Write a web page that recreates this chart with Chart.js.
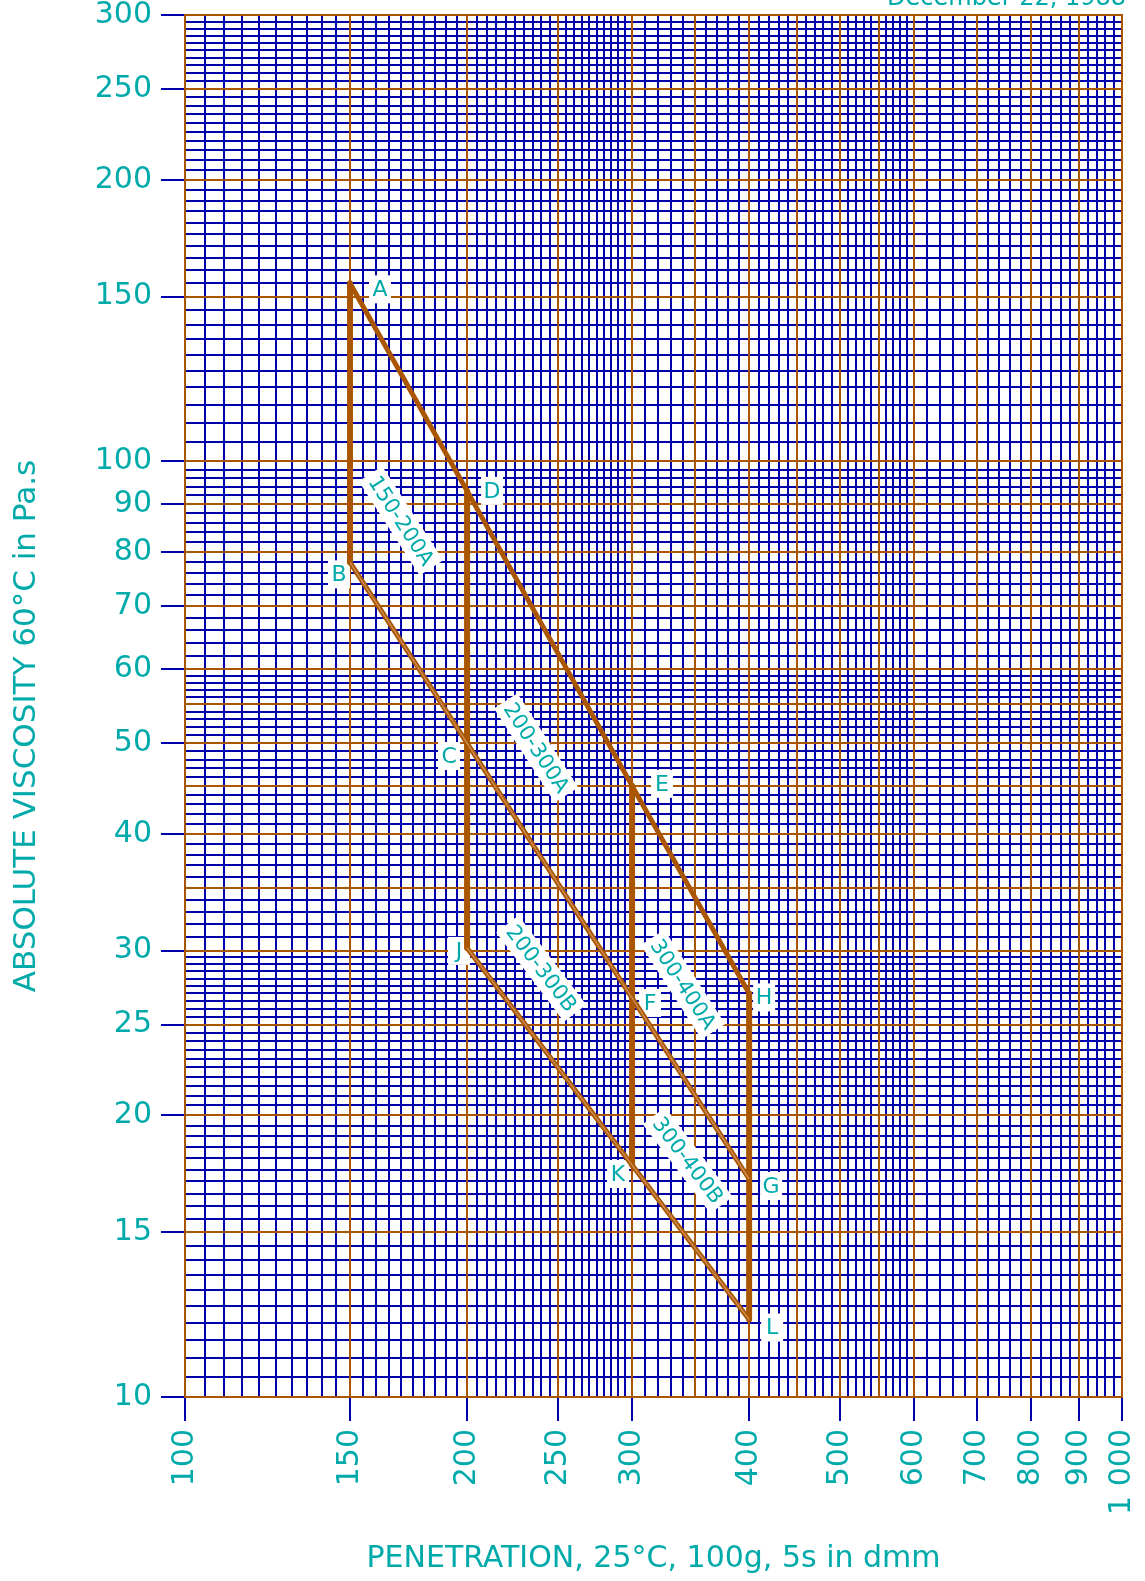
<!DOCTYPE html>
<html>
<head>
<meta charset="utf-8">
<script src="https://cdn.jsdelivr.net/npm/chart.js@4.4.0/dist/chart.umd.min.js"></script>
<style>
  html, body { margin: 0; padding: 0; background: #fff; }
  #wrap { width: 1145px; height: 1581px; }
</style>
</head>
<body>
<div id="wrap"><canvas id="chart" width="1145" height="1581"></canvas></div>
<script>
// penetration (dmm) of the four grade columns
const penetration = [150, 200, 300, 400];
// viscosity at 60°C (Pa.s) along the three sloping limit lines
const limitUpper = [155, 93, 45, 27];        // A, D, E, H
const limitMiddle = [78, 50, 26.7, 17.1];    // B, C, F, G
const limitLower = [null, 30.2, 17.7, 12.1]; // -, J, K, L
const namesUpper = ["A", "D", "E", "H"];
const namesMiddle = ["B", "C", "F", "G"];
const namesLower = [null, "J", "K", "L"];

// grade zone captions, anchored in data space
const gradeNames = ["150-200A", "200-300A", "200-300B", "300-400A", "300-400B"];
const gradePen = [170, 237, 240, 340, 344];
const gradeVisc = [86.4, 49.4, 28.7, 27.6, 17.9];

// axis tick labels
const xTickLabels = [100, 150, 200, 250, 300, 400, 500, 600, 700, 800, 900, 1000];
const yTickLabels = [10, 15, 20, 25, 30, 40, 50, 60, 70, 80, 90, 100, 150, 200, 250, 300];

// graph paper rulings
const xMajor = [100, 150, 200, 250, 300, 350, 400, 450, 500, 550, 600, 700, 800, 900, 1000];
const yMajor = [10, 15, 20, 25, 30, 35, 40, 45, 50, 55, 60, 70, 80, 90, 100, 150, 200, 250, 300];
const xMinorBands = [[100, 300, 5], [300, 600, 10], [600, 1000, 20]];
const yMinorBands = [[10, 30, 0.5], [30, 60, 1], [60, 100, 2], [100, 300, 5]];

const BLUE = "#0000AA";
const BROWN = "#AA5500";
const STRIPE = "#C98A4E";
const TEAL = "#00AAAA";
const FONT = "'DejaVu Sans', sans-serif";

function expandBands(bands) {
    const out = [];
    bands.forEach(([from, to, step]) => {
        for (let v = from; v <= to + 1e-9; v += step) out.push(+v.toFixed(2));
    });
    return out;
}
const xMinor = expandBands(xMinorBands);
const yMinor = expandBands(yMinorBands);

// pixel offsets of the point letters from their vertex
const letterOffset = {
    A: [30, 6], B: [-11, 12], C: [-18, 13], D: [25, 0], E: [30, -2], F: [18, 5],
    G: [22, 7], H: [15, 4], J: [-8, 3], K: [-14, 9], L: [23, 8]
};
// which line segment each caption runs parallel to: [series, from index]
const gradeSlope = [["middle", 0], ["middle", 1], ["lower", 1], ["middle", 2], ["lower", 2]];

const series = { upper: limitUpper, middle: limitMiddle, lower: limitLower };
const pts = ys => penetration.map((p, i) => ({ x: p, y: ys[i] }));

const verticals = [];
penetration.forEach((p, i) => {
    const low = limitLower[i] != null ? limitLower[i] : limitMiddle[i];
    verticals.push({ x: p, y: limitUpper[i] }, { x: p, y: low }, { x: p, y: null });
});

const paperGrid = {
    id: "paperGrid",
    beforeDatasetsDraw(chart) {
        const { ctx, chartArea: a, scales: { x, y } } = chart;
        const vline = v => { const p = Math.round(x.getPixelForValue(v)); ctx.moveTo(p, a.top); ctx.lineTo(p, a.bottom); };
        const hline = v => { const p = Math.round(y.getPixelForValue(v)); ctx.moveTo(a.left, p); ctx.lineTo(a.right, p); };
        ctx.save();
        ctx.lineWidth = 2;
        ctx.strokeStyle = BLUE;
        ctx.beginPath();
        xMinor.forEach(vline);
        yMinor.forEach(hline);
        ctx.stroke();
        ctx.strokeStyle = BROWN;
        ctx.lineCap = "square";
        ctx.beginPath();
        xMajor.forEach(vline);
        yMajor.forEach(hline);
        ctx.stroke();

        // point letters
        ctx.font = "22px " + FONT;
        ctx.textAlign = "center";
        ctx.textBaseline = "middle";
        const letter = (name, px, py) => {
            if (!name) return;
            const [dx, dy] = letterOffset[name];
            const cx = px + dx, cy = py + dy;
            ctx.fillStyle = "#fff";
            ctx.fillRect(cx - 11, cy - 14, 22, 28);
            ctx.fillStyle = TEAL;
            ctx.fillText(name, cx, cy + 1);
        };
        penetration.forEach((p, i) => {
            const px = x.getPixelForValue(p);
            letter(namesUpper[i], px, y.getPixelForValue(limitUpper[i]));
            letter(namesMiddle[i], px, y.getPixelForValue(limitMiddle[i]));
            if (limitLower[i] != null) letter(namesLower[i], px, y.getPixelForValue(limitLower[i]));
        });

        // grade captions along the lines
        ctx.font = "21px " + FONT;
        gradeNames.forEach((g, k) => {
            const [key, i] = gradeSlope[k];
            const ys = series[key];
            const dx = x.getPixelForValue(penetration[i + 1]) - x.getPixelForValue(penetration[i]);
            const dy = y.getPixelForValue(ys[i + 1]) - y.getPixelForValue(ys[i]);
            const ang = Math.atan2(dy, dx);
            const w = ctx.measureText(g).width + 10;
            ctx.save();
            ctx.translate(x.getPixelForValue(gradePen[k]), y.getPixelForValue(gradeVisc[k]));
            ctx.rotate(ang);
            ctx.fillStyle = "#fff";
            ctx.fillRect(-w / 2, -14, w, 28);
            ctx.fillStyle = TEAL;
            ctx.fillText(g, 0, 1);
            ctx.restore();
        });
        ctx.restore();
    },
    afterDraw(chart) {
        const { ctx, chartArea: a } = chart;
        ctx.save();
        ctx.fillStyle = TEAL;
        ctx.font = "24px " + FONT;
        ctx.textAlign = "right";
        ctx.textBaseline = "alphabetic";
        ctx.fillText("December 22, 1988", a.right + 4, 5);
        // vertical axis title
        ctx.font = "31px " + FONT;
        ctx.textAlign = "center";
        ctx.textBaseline = "middle";
        ctx.translate(27, (a.top + a.bottom) / 2 + 20);
        ctx.rotate(-Math.PI / 2);
        ctx.fillText("ABSOLUTE VISCOSITY 60°C in Pa.s", 0, 0);
        ctx.restore();
    }
};

const noScalePadding = s => { s.paddingTop = 0; s.paddingBottom = 0; s.paddingLeft = 0; s.paddingRight = 0; };

new Chart(document.getElementById("chart"), {
    type: "line",
    data: {
        datasets: [
            { label: "stripe B-G", data: pts(limitMiddle), borderColor: STRIPE, borderWidth: 1.5, order: 0 },
            { label: "stripe J-L", data: pts(limitLower), borderColor: STRIPE, borderWidth: 1.5, order: 0 },
            { label: "grade columns", data: verticals, borderColor: BROWN, borderWidth: 6, order: 1 },
            { label: "A-D-E-H", data: pts(limitUpper), borderColor: BROWN, borderWidth: 5, order: 2 },
            { label: "B-C-F-G", data: pts(limitMiddle), borderColor: BROWN, borderWidth: 5, order: 3 },
            { label: "J-K-L", data: pts(limitLower), borderColor: BROWN, borderWidth: 5, order: 3 }
        ]
    },
    options: {
        responsive: false,
        animation: false,
        devicePixelRatio: 1,
        spanGaps: false,
        elements: { point: { radius: 0 }, line: { tension: 0, borderJoinStyle: "round" } },
        layout: { padding: { top: 15, right: 23, left: 0, bottom: 0 } },
        plugins: { legend: { display: false }, tooltip: { enabled: false } },
        scales: {
            x: {
                type: "logarithmic",
                min: 100,
                max: 1000,
                afterBuildTicks: s => { s.ticks = xTickLabels.map(v => ({ value: v })); },
                afterFit: s => { s.height = 184; noScalePadding(s); },
                border: { display: false },
                grid: { drawOnChartArea: false, drawTicks: true, tickLength: 24, color: BLUE, lineWidth: 2 },
                ticks: {
                    autoSkip: false,
                    minRotation: 90,
                    maxRotation: 90,
                    padding: 8,
                    color: TEAL,
                    font: { family: FONT, size: 30, lineHeight: 1 },
                    callback: v => (v === 1000 ? "1 000" : String(v))
                },
                title: {
                    display: true,
                    text: "PENETRATION, 25°C, 100g, 5s in dmm",
                    color: TEAL,
                    font: { family: FONT, size: 30 },
                    padding: { top: 0, bottom: 4 }
                }
            },
            y: {
                type: "logarithmic",
                min: 10,
                max: 300,
                afterBuildTicks: s => { s.ticks = yTickLabels.map(v => ({ value: v })); },
                afterFit: s => { s.width = 185; noScalePadding(s); },
                border: { display: false },
                grid: { drawOnChartArea: false, drawTicks: true, tickLength: 24, color: BLUE, lineWidth: 2 },
                ticks: {
                    autoSkip: false,
                    padding: 9,
                    color: TEAL,
                    font: { family: FONT, size: 30, lineHeight: 1 },
                    callback: v => String(v)
                },
                title: { display: false }
            }
        }
    },
    plugins: [paperGrid]
});
</script>
</body>
</html>
